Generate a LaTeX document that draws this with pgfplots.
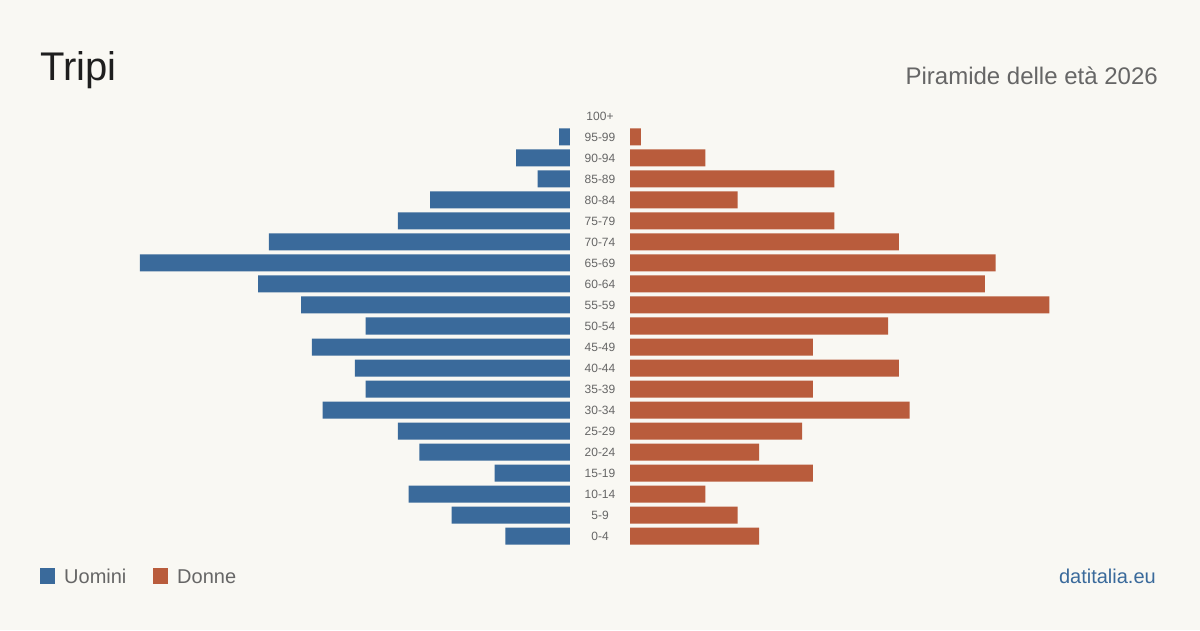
\documentclass[border=0pt]{standalone}
\usepackage{pgfplots}
\pgfplotsset{compat=1.18}
\usepackage{fontspec}
\setmainfont{Liberation Sans}

\definecolor{bg}{HTML}{F9F8F3}
\definecolor{men}{HTML}{3A6A9B}
\definecolor{women}{HTML}{B95C3C}
\definecolor{txtgray}{HTML}{666666}
\definecolor{titlec}{HTML}{1E1E1E}

% Age classes: index 0 = 0-4 ... 20 = 100+
\newcommand{\ageclasses}{0-4,5-9,10-14,15-19,20-24,25-29,30-34,35-39,40-44,45-49,50-54,55-59,60-64,65-69,70-74,75-79,80-84,85-89,90-94,95-99,100+}

\pgfplotsset{
  pyr/.style={
    scale only axis,
    width=430pt, height=441pt,
    xmin=0, xmax=40,
    ymin=-0.5, ymax=20.5,
    xbar, bar width=17pt, bar shift=0pt,
    axis line style={draw=none},
    xtick=\empty,
    ytick=\empty,
    major tick length=0pt,
    clip=false,
  }
}

\begin{document}
\begin{tikzpicture}[x=1pt,y=1pt]
  \fill[bg] (0,0) rectangle (1200,630);
  \useasboundingbox (0,0) rectangle (1200,630);

  % Men, growing leftwards from the centre gap
  \begin{axis}[pyr, at={(140pt,83.5pt)}, anchor=south west, x dir=reverse]
    \addplot[fill=men, draw=none] coordinates {
      (6,0) (11,1) (15,2) (7,3) (14,4) (16,5) (23,6) (19,7) (20,8) (24,9)
      (19,10) (25,11) (29,12) (40,13) (28,14) (16,15) (13,16) (3,17) (5,18) (1,19)
    };
  \end{axis}

  % Women, growing rightwards; age labels sit in the gap
  \begin{axis}[pyr, at={(630pt,83.5pt)}, anchor=south west,
      ytick={0,...,20}, yticklabels/.expand once=\ageclasses,
      yticklabel style={anchor=center, xshift=-30pt, text=txtgray,
        font=\fontsize{12}{14}\selectfont}]
    \addplot[fill=women, draw=none] coordinates {
      (12,0) (10,1) (7,2) (17,3) (12,4) (16,5) (26,6) (17,7) (25,8) (17,9)
      (24,10) (39,11) (33,12) (34,13) (25,14) (19,15) (10,16) (19,17) (7,18) (1,19)
    };
  \end{axis}

  % Titles
  \node[anchor=base west, inner sep=0, text=titlec,
        font=\fontsize{40}{44}\selectfont] at (40,549) {Tripi};
  \node[anchor=base east, inner sep=0, text=txtgray,
        font=\fontsize{24}{28}\selectfont] at (1158,545) {Piramide delle età 2026};

  % Legend
  \fill[men] (40,46) rectangle (55,62);
  \node[anchor=base west, inner sep=0, text=txtgray,
        font=\fontsize{20}{24}\selectfont] at (64,47) {Uomini};
  \fill[women] (153,46) rectangle (168,62);
  \node[anchor=base west, inner sep=0, text=txtgray,
        font=\fontsize{20}{24}\selectfont] at (177,47) {Donne};

  % Source
  \node[anchor=base east, inner sep=0, text=men,
        font=\fontsize{20}{24}\selectfont] at (1156,47) {datitalia.eu};
\end{tikzpicture}
\end{document}
